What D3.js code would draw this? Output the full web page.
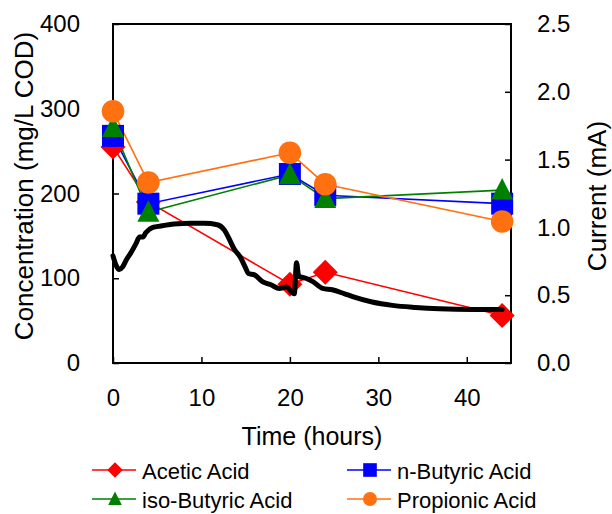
<!DOCTYPE html>
<html>
<head>
<meta charset="utf-8">
<script src="https://cdn.jsdelivr.net/npm/d3@7"></script>
<style>
  html, body { margin: 0; padding: 0; background: #fff; }
  svg { display: block; font-family: "Liberation Sans", Arial, sans-serif; }
</style>
</head>
<body>
<svg id="chart" width="612" height="514"></svg>
<script>
// Sampling times (hours)
const times = [0, 4, 20, 24, 44];

// Volatile fatty acid concentrations (mg/L COD)
const acetic     = [255, 190, 93, 107, 56];
const nButyric   = [268, 188, 223, 198, 188];
const isoButyric = [278, 178, 222, 194, 204];
const propionic  = [297, 213, 248, 211, 167];

// Recorded current (mA) versus time (hours)
const currentT = [0, 0.35, 0.7, 1.1, 1.5, 2.0, 2.6, 3.0, 3.4, 3.7, 4.5, 5.4, 6.9, 8.8, 10.3, 11.8, 12.6, 13.1, 13.7, 14.4, 15.0, 15.3, 16.0, 16.9, 17.9, 18.8, 19.6, 20.5, 20.75, 21.0, 21.8, 22.6, 23.7, 24.8, 26.2, 27.1, 29.3, 31.6, 34.2, 36.9, 40.6, 44.0];
const currentA = [0.79, 0.72, 0.69, 0.71, 0.76, 0.81, 0.88, 0.93, 0.93, 0.96, 1.00, 1.01, 1.025, 1.03, 1.03, 1.02, 0.98, 0.92, 0.84, 0.78, 0.70, 0.66, 0.65, 0.60, 0.575, 0.55, 0.56, 0.51, 0.74, 0.64, 0.625, 0.60, 0.55, 0.54, 0.51, 0.49, 0.45, 0.425, 0.41, 0.40, 0.395, 0.395];

const xTicks = [0, 10, 20, 30, 40];
const yTicks = [0, 100, 200, 300, 400];
const y2Ticks = [0, 0.5, 1.0, 1.5, 2.0, 2.5];

const series = [
  { name: "Acetic Acid",      values: acetic,     color: "#ff0000", symbol: "diamond" },
  { name: "n-Butyric Acid",   values: nButyric,   color: "#0000ff", symbol: "square" },
  { name: "iso-Butyric Acid", values: isoButyric, color: "#008000", symbol: "triangle" },
  { name: "Propionic Acid",   values: propionic,  color: "#ff7010", symbol: "circle" }
];

const svg = d3.select("#chart");
const L = 113, R = 511, T = 24, B = 363;

const x = d3.scaleLinear().domain([0, 45]).range([L, R]);
const y = d3.scaleLinear().domain([0, 400]).range([B, T]);
const y2 = d3.scaleLinear().domain([0, 2.5]).range([B, T]);

// marker shapes, sized for the plot area
function markerPath(symbol) {
  switch (symbol) {
    case "diamond": return "M0,-12.5L12.5,0L0,12.5L-12.5,0Z";
    case "square": return "M-11,-11H11V11H-11Z";
    case "triangle": return "M0,-12L11,9.5H-11Z";
    case "circle": return d3.symbol(d3.symbolCircle, Math.PI * 11.3 * 11.3)();
  }
}

// frame
const axisColor = "#000";
svg.append("rect").attr("x", L).attr("y", T).attr("width", R - L).attr("height", B - T)
  .attr("fill", "none").attr("stroke", axisColor).attr("stroke-width", 2);

// axes
const tickFont = 24;
const titleFont = 25;
const xAxis = svg.append("g").attr("transform", `translate(0,${B})`)
  .call(d3.axisBottom(x).tickValues(xTicks).tickSize(-6).tickPadding(26).tickFormat(d3.format("d")));
const yAxis = svg.append("g").attr("transform", `translate(${L},0)`)
  .call(d3.axisLeft(y).tickValues(yTicks).tickSize(-6).tickPadding(33).tickFormat(d3.format("d")));
const y2Axis = svg.append("g").attr("transform", `translate(${R},0)`)
  .call(d3.axisRight(y2).tickValues(y2Ticks).tickSize(-6).tickPadding(26).tickFormat(d3.format(".1f")));

[xAxis, yAxis, y2Axis].forEach(g => {
  g.select(".domain").remove();
  g.selectAll(".tick line").attr("stroke", axisColor).attr("stroke-width", 1.5);
  g.selectAll(".tick text").attr("font-size", tickFont).attr("fill", "#000")
    .attr("font-family", "Liberation Sans, Arial, sans-serif");
});

// axis titles
svg.append("text").attr("x", 312).attr("y", 445).attr("text-anchor", "middle")
  .attr("font-size", titleFont).text("Time (hours)");
svg.append("text").attr("transform", `translate(33,186) rotate(-90)`)
  .attr("text-anchor", "middle").attr("font-size", 26).text("Concentration (mg/L COD)");
svg.append("text").attr("transform", `translate(606,196) rotate(-90)`)
  .attr("text-anchor", "middle").attr("font-size", 26).text("Current (mA)");

// acid series lines + markers
const line = d3.line().x((d, i) => x(times[i])).y(d => y(d));
series.forEach(s => {
  svg.append("path").datum(s.values).attr("d", line)
    .attr("fill", "none").attr("stroke", s.color).attr("stroke-width", 1.6);
});
series.forEach(s => {
  svg.append("g").selectAll("path").data(s.values).join("path")
    .attr("transform", (d, i) => `translate(${x(times[i])},${y(d)})`)
    .attr("d", markerPath(s.symbol)).attr("fill", s.color);
});

// current trace on the secondary axis
const currentLine = d3.line().x((d, i) => x(currentT[i])).y(d => y2(d)).curve(d3.curveMonotoneX);
svg.append("path").datum(currentA).attr("d", currentLine)
  .attr("fill", "none").attr("stroke", "#000").attr("stroke-width", 5)
  .attr("stroke-linejoin", "round").attr("stroke-linecap", "round");

// legend
const legendItems = [
  { s: series[0], lx: 92, ly: 470 },
  { s: series[1], lx: 347, ly: 470 },
  { s: series[2], lx: 92, ly: 499 },
  { s: series[3], lx: 347, ly: 499 }
];
const lg = svg.append("g");
legendItems.forEach(it => {
  const g = lg.append("g").attr("transform", `translate(${it.lx},${it.ly})`);
  g.append("line").attr("x1", 0).attr("x2", 44).attr("stroke", it.s.color).attr("stroke-width", 1.6);
  g.append("path").attr("transform", "translate(23,0) scale(0.62)").attr("d", markerPath(it.s.symbol)).attr("fill", it.s.color);
  g.append("text").attr("x", 50).attr("y", 8.5).attr("font-size", 22).text(it.s.name);
});
</script>
</body>
</html>
